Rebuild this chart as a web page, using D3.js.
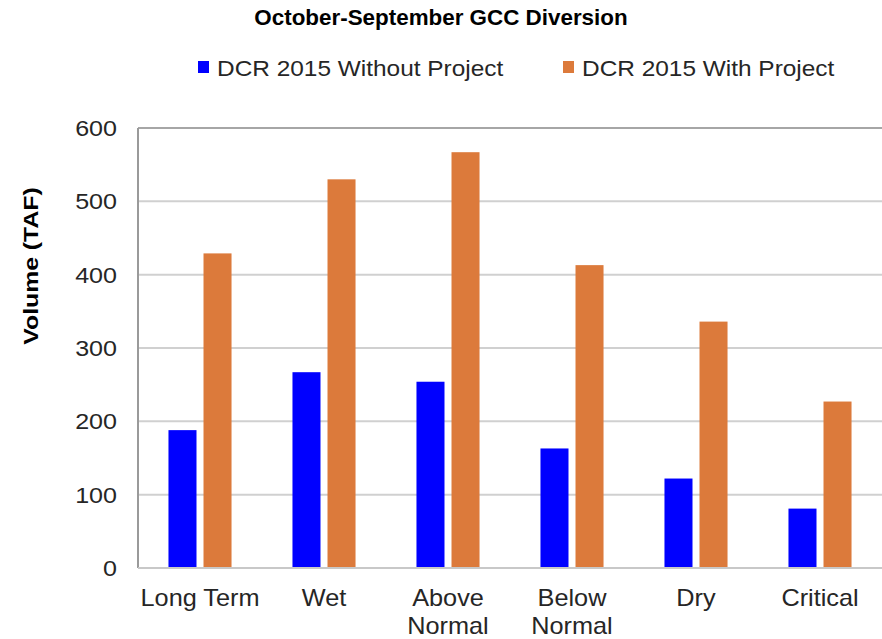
<!DOCTYPE html>
<html>
<head>
<meta charset="utf-8">
<script src="https://cdn.jsdelivr.net/npm/d3@7"></script>
<style>
body { margin: 0; background: #fff; }
svg text { font-family: "Liberation Sans", Arial, sans-serif; fill: #262626; }
</style>
</head>
<body>
<div id="chart"></div>
<script>
var categories = [["Long Term"], ["Wet"], ["Above", "Normal"], ["Below", "Normal"], ["Dry"], ["Critical"]];
var seriesNames = ["DCR 2015 Without Project", "DCR 2015 With Project"];
var withoutProject = [188, 267, 254, 163, 122, 81];
var withProject = [429, 530, 567, 413, 336, 227];
var yTicks = [0, 100, 200, 300, 400, 500, 600];
var colors = ["#0000ff", "#dc7a3b"];

var width = 882, height = 639;
var margin = {top: 128, right: 0, bottom: 71, left: 138};

var svg = d3.select("#chart").append("svg")
	.attr("width", width)
	.attr("height", height);

// text in the original is a bit wider than Liberation Sans
function place(x, y, sx) {
	return "translate(" + x + "," + y + ") scale(" + sx + ",1)";
}

var x = d3.scaleBand()
	.domain(d3.range(categories.length))
	.range([margin.left, width - margin.right]);

var xInner = d3.scaleBand()
	.domain([0, 1])
	.range([0, x.bandwidth()])
	.paddingInner(0.2)
	.paddingOuter(0.87);

var y = d3.scaleLinear()
	.domain([0, 600])
	.range([height - margin.bottom, margin.top]);

// gridlines
svg.append("g")
	.attr("class", "grid")
	.selectAll("line")
	.data(yTicks)
	.enter()
	.append("line")
	.attr("x1", margin.left)
	.attr("x2", width - margin.right)
	.attr("y1", d => y(d))
	.attr("y2", d => y(d))
	.attr("stroke", d => d == 600 ? "#a6a6a6" : "#d0d0d0")
	.attr("stroke-width", 2);

// y axis line
svg.append("line")
	.attr("x1", margin.left)
	.attr("x2", margin.left)
	.attr("y1", y(600))
	.attr("y2", y(0))
	.attr("stroke", "#9a9a9a")
	.attr("stroke-width", 2);

// y tick labels
svg.append("g")
	.selectAll("text")
	.data(yTicks)
	.enter()
	.append("text")
	.attr("transform", d => place(margin.left - 21, y(d), 1.14))
	.attr("dy", "0.36em")
	.attr("text-anchor", "end")
	.style("font-size", "22px")
	.text(d => d);

// bars
var data = categories.map((c, i) => [withoutProject[i], withProject[i]]);
var groups = svg.append("g")
	.selectAll("g")
	.data(data)
	.enter()
	.append("g")
	.attr("transform", (d, i) => "translate(" + x(i) + ",0)");

groups.selectAll("rect")
	.data(d => d)
	.enter()
	.append("rect")
	.attr("x", (d, j) => xInner(j))
	.attr("width", xInner.bandwidth())
	.attr("y", d => y(d))
	.attr("height", d => y(0) - y(d))
	.attr("fill", (d, j) => colors[j]);

// baseline drawn over bars
svg.append("line")
	.attr("x1", margin.left)
	.attr("x2", width - margin.right)
	.attr("y1", y(0))
	.attr("y2", y(0))
	.attr("stroke", "#c8c8c8")
	.attr("stroke-width", 2);

// category labels
var catLabels = svg.append("g")
	.selectAll("text")
	.data(categories)
	.enter()
	.append("text")
	.attr("transform", (d, i) => place(x(i) + x.bandwidth() / 2, y(0) + 38, 1.1))
	.attr("text-anchor", "middle")
	.style("font-size", "23px");

catLabels.selectAll("tspan")
	.data(d => d)
	.enter()
	.append("tspan")
	.attr("x", 0)
	.attr("dy", (d, k) => k == 0 ? 0 : 28)
	.text(d => d);

// y axis title
svg.append("text")
	.attr("transform", "translate(38,266) rotate(-90) scale(1.18,1)")
	.attr("text-anchor", "middle")
	.style("font-size", "21px")
	.style("font-weight", "bold")
	.style("fill", "#000")
	.text("Volume (TAF)");

// chart title
svg.append("text")
	.attr("x", 441)
	.attr("y", 25)
	.attr("text-anchor", "middle")
	.style("font-size", "22.4px")
	.style("font-weight", "bold")
	.style("fill", "#000")
	.text("October-September GCC Diversion");

// legend
var legendX = [198, 563];
var legend = svg.append("g")
	.selectAll("g")
	.data(seriesNames)
	.enter()
	.append("g")
	.attr("transform", (d, i) => "translate(" + legendX[i] + ",68)");

legend.append("rect")
	.attr("x", 0)
	.attr("y", -7)
	.attr("width", 11)
	.attr("height", 12)
	.attr("fill", (d, i) => colors[i]);

legend.append("text")
	.attr("transform", place(19, 0, 1.11))
	.attr("dy", "0.36em")
	.style("font-size", "22px")
	.text(d => d);
</script>
</body>
</html>
